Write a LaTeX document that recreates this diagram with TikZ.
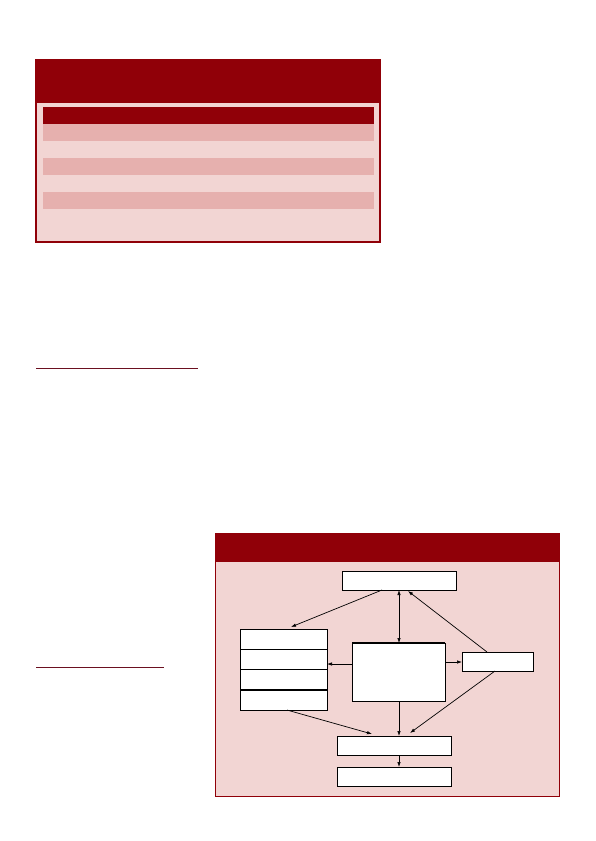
\documentclass[tikz,border=0pt]{standalone}
\usetikzlibrary{calc,arrows.meta}
\definecolor{dred}{HTML}{900008}
\definecolor{lpink}{HTML}{F2D5D3}
\definecolor{rpink}{HTML}{E6B0AE}
\definecolor{rule}{HTML}{6B1020}
\tikzset{
  panel/.style={draw=dred,line width=1.3pt,fill=lpink,inner sep=0,outer sep=0},
  header/.style={fill=dred,inner sep=0,outer sep=0},
  rowdark/.style={fill=dred,inner sep=0,outer sep=0,minimum width=331pt,minimum height=17pt},
  rowlight/.style={fill=rpink,inner sep=0,outer sep=0,minimum width=331pt,minimum height=17pt},
  wbox/.style={draw=black,line width=0.7pt,fill=white,inner sep=0,outer sep=0},
  arr/.style={-{Latex[length=5pt,width=3.5pt]},line width=0.7pt},
  darr/.style={{Latex[length=5pt,width=3.5pt]}-{Latex[length=5pt,width=3.5pt]},line width=0.7pt},
  rulestyle/.style={draw=rule,line width=1pt}
}
\begin{document}
\begin{tikzpicture}[x=1pt,y=-1pt]
\useasboundingbox (0,0) rectangle (595,841);
% top panel
\node[panel,minimum width=344pt,minimum height=182pt] (p1) at (208,151) {};
\node[header,minimum width=344pt,minimum height=43pt] (h1) at (208,81.5) {};
\node[rowdark] (r0) at (208.5,115.5) {};
\node[rowlight] (r1) at (208.5,132.5) {};
\node[rowlight] (r2) at (208.5,166.5) {};
\node[rowlight] (r3) at (208.5,200.5) {};
% rules
\coordinate (ra) at (36,368); \coordinate (rb) at (198,368);
\draw[rulestyle] (ra) -- (rb);
\coordinate (rc) at (36,667); \coordinate (rd) at (164,667);
\draw[rulestyle] (rc) -- (rd);
% bottom panel
\node[panel,line width=1pt,minimum width=344pt,minimum height=263pt] (p2) at (387,664.5) {};
\node[header,minimum width=344pt,minimum height=29pt] (h2) at (387,547.5) {};
% diagram boxes
\node[wbox,minimum width=114pt,minimum height=19pt] (top) at (399,580.5) {};
\node[wbox,minimum width=87pt,minimum height=20.25pt] (l1) at (283.5,639.1) {};
\node[wbox,minimum width=87pt,minimum height=20.25pt] (l2) at (283.5,659.4) {};
\node[wbox,minimum width=87pt,minimum height=20.25pt] (l3) at (283.5,679.6) {};
\node[wbox,minimum width=87pt,minimum height=20.25pt] (l4) at (283.5,699.9) {};
\draw[line width=1.5pt] (l4.north west) -- (l4.north east);
\node[wbox,minimum width=93pt,minimum height=58pt] (cen) at (398.5,672) {};
\draw[line width=1.5pt] (cen.north west) -- (cen.north east);
\node[wbox,minimum width=71pt,minimum height=19pt] (rgt) at (497.5,661.5) {};
\node[wbox,minimum width=114pt,minimum height=19pt] (b1) at (394,745.5) {};
\node[wbox,minimum width=114pt,minimum height=19pt] (b2) at (394,776.5) {};
% connectors
\draw[arr] ($(top.south)+(-17,0)$) -- ($(l1.north)+(7.5,-2)$);
\draw[darr] (top.south) -- (top.south |- cen.north);
\draw[arr] ($(rgt.north)+(-10.5,0)$) -- ($(top.south)+(9,1)$);
\draw[arr] ($(cen.west)+(0,-8)$) coordinate (c4) -- (c4 -| l2.east);
\draw[arr] ($(cen.east)+(0,-10)$) coordinate (c5) -- (c5 -| rgt.west);
\draw[arr] ($(cen.south)+(0.5,0)$) coordinate (c6) -- (c6 |- b1.north);
\draw[arr] ($(l4.south)+(3.5,0)$) -- ($(b1.north)+(-22,-2)$);
\draw[arr] ($(rgt.south)+(-2.5,0)$) -- ($(b1.north)+(16,-3)$);
\draw[arr] ($(b1.south)+(5,0)$) coordinate (c9) -- (c9 |- b2.north);
\end{tikzpicture}
\end{document}
